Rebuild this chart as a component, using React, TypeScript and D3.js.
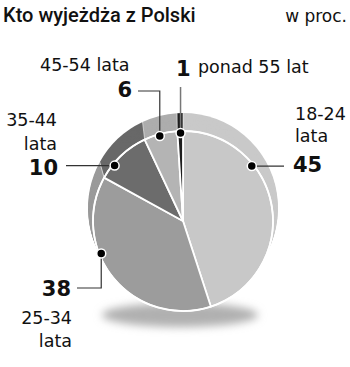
import React from "react";
import * as d3 from "d3";

const categories = ["18-24", "25-34", "35-44", "45-54", "ponad 55 lat"];
const values = [45, 38, 10, 6, 1];
const title = "Kto wyjeżdża z Polski";
const unit = "w proc.";

const frontColors = ["#c8c8c8", "#9c9c9c", "#6c6c6c", "#b4b4b4", "#1e1e1e"];
const sideColors = ["#c9c9c9", "#9a9a9a", "#686868", "#adadad", "#1e1e1e"];

const W = 350;
const H = 367;
const cx = 183;
const cy = 221;
const R = 90;
const backDy = -13;
const backDr = 5;

// dot angle (degrees, clockwise from top) per slice
const dotAngles = [51.4, 248.3, 309, 344.7, 358.4];
const dotR = 88;

const LBL = "'DejaVu Sans', sans-serif";

export default function App() {
  const pie = d3.pie<number>().sort(null).value((d) => d)(values);
  const layers: number[] = [];
  const N = 16;
  for (let i = N; i >= 1; i--) layers.push(i / N);

  const dot = (i: number) => {
    const a = (dotAngles[i] * Math.PI) / 180;
    return [cx + dotR * Math.sin(a), cy - dotR * Math.cos(a)];
  };
  const d0 = dot(0), d1 = dot(1), d2 = dot(2), d3p = dot(3), d4 = dot(4);

  const frontArc = d3.arc<d3.PieArcDatum<number>>().innerRadius(0).outerRadius(R);

  const boundaries = pie.map((p) => p.startAngle);

  return (
    <svg width={W} height={H} style={{ position: "absolute", left: 0, top: 0, background: "#fff" }}>
      <defs>
        <filter id="blur" x="-50%" y="-100%" width="200%" height="300%">
          <feGaussianBlur stdDeviation="4" />
        </filter>
      </defs>
      <text x={3} y={22} fontFamily="Roboto, sans-serif" fontWeight={500} fontSize={20} fill="#111">
        {title}
      </text>
      <text x={347} y={22} textAnchor="end" fontFamily={LBL} fontSize={17} fill="#111">
        {unit}
      </text>

      {/* shadow */}
      <ellipse cx={180} cy={315} rx={78} ry={12} fill="#b0b0b0" filter="url(#blur)" />

      {/* side layers */}
      {layers.map((t, li) => {
        const r = R + backDr * t;
        const arc = d3.arc<d3.PieArcDatum<number>>().innerRadius(0).outerRadius(r);
        return (
          <g key={li} transform={`translate(${cx},${cy + backDy * t})`}>
            {pie.map((p, i) => (
              <path key={i} d={arc(p) || ""} fill={sideColors[i]} />
            ))}
          </g>
        );
      })}
      {/* side separators */}
      {boundaries.map((a, i) => (
        <line
          key={i}
          x1={cx + R * Math.sin(a)}
          y1={cy - R * Math.cos(a)}
          x2={cx + (R + backDr) * Math.sin(a)}
          y2={cy + backDy - (R + backDr) * Math.cos(a)}
          stroke="#fff"
          strokeWidth={1}
          opacity={0.6}
        />
      ))}

      {/* front face */}
      <g transform={`translate(${cx},${cy})`}>
        {pie.map((p, i) => (
          <path key={i} d={frontArc(p) || ""} fill={frontColors[i]} stroke="#fff" strokeWidth={1.8} strokeLinejoin="round" />
        ))}
        <circle r={R} fill="none" stroke="#fff" strokeWidth={1.6} />
      </g>

      {/* leader lines */}
      <g stroke="#333" strokeWidth={1.2} fill="none">
        <polyline points={`${d0[0]},${d0[1]} 284,${d0[1]}`} />
        <polyline points={`${d1[0]},${d1[1]} ${d1[0]},288 77,288`} />
        <polyline points={`${d2[0]},${d2[1]} 66,${d2[1]}`} />
        <polyline points={`${d3p[0]},${d3p[1]} ${d3p[0]},91 138,91`} />
        <polyline points={`${d4[0]},${d4[1]} ${d4[0]},87`} stroke="#777" strokeWidth={1.5} />
      </g>
      {[d0, d1, d2, d3p, d4].map((d, i) => (
        <circle key={i} cx={d[0]} cy={d[1]} r={4.5} fill="#000" stroke="#fff" strokeWidth={1.5} />
      ))}

      {/* labels */}
      <g fontFamily={LBL} fill="#111">
        {/* 18-24 */}
        <text x={295} y={120} fontSize={17.5}>{categories[0]}</text>
        <text x={295} y={142} fontSize={17.5}>lata</text>
        <text x={293} y={172} fontSize={21} fontWeight="bold">{values[0]}</text>
        {/* 25-34 */}
        <text x={71} y={296} fontSize={21} fontWeight="bold" textAnchor="end">{values[1]}</text>
        <text x={72} y={324} fontSize={17.5} textAnchor="end">{categories[1]}</text>
        <text x={72} y={347} fontSize={17.5} textAnchor="end">lata</text>
        {/* 35-44 */}
        <text x={57} y={126} fontSize={17.5} textAnchor="end">{categories[2]}</text>
        <text x={57} y={150} fontSize={17.5} textAnchor="end">lata</text>
        <text x={58} y={175} fontSize={21} fontWeight="bold" textAnchor="end">{values[2]}</text>
        {/* 45-54 */}
        <text x={40} y={71} fontSize={17.5}>{categories[3]} lata</text>
        <text x={132} y={97} fontSize={21} fontWeight="bold" textAnchor="end">{values[3]}</text>
        {/* 55+ */}
        <text x={176} y={76} fontSize={21} fontWeight="bold">{values[4]}</text>
        <text x={198} y={73} fontSize={17.5}>{categories[4]}</text>
      </g>
    </svg>
  );
}
